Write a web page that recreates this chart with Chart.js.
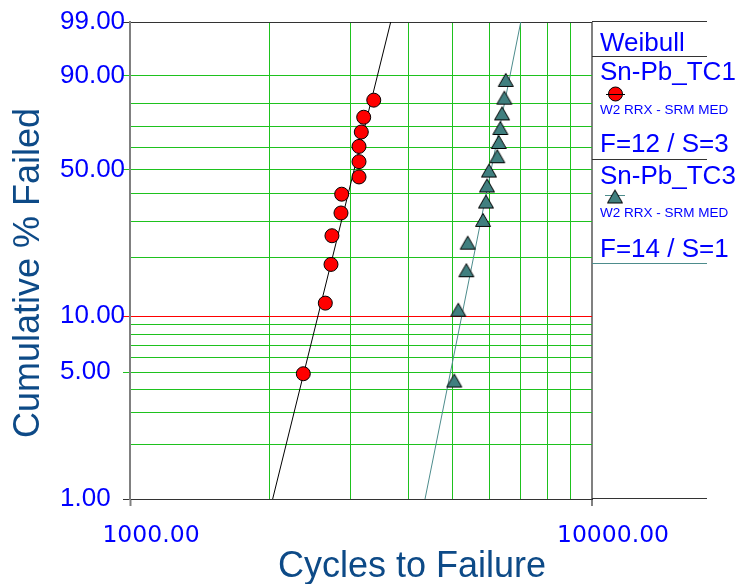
<!DOCTYPE html>
<html>
<head>
<meta charset="utf-8">
<script src="https://cdn.jsdelivr.net/npm/chart.js@4.4.1/dist/chart.umd.min.js"></script>
<style>
  html, body { margin: 0; padding: 0; background: #fff; }
  #wrap { width: 746px; height: 584px; }
</style>
</head>
<body>
<div id="wrap"><canvas id="chart" width="746" height="584"></canvas></div>
<script>
// Данные
const tc1Cycles = [2372, 2647, 2723, 2736, 2862, 2872, 3131, 3131, 3131, 3167, 3205, 3370];
const tc1Pct    = [4.9, 11.7, 18.5, 25.6, 32.7, 39.6, 46.7, 53.5, 60.6, 67.4, 74.2, 81.5];
const tc3Cycles = [5034, 5135, 5346, 5383, 5809, 5896, 5925, 5984, 6238, 6283, 6333, 6387, 6461, 6506];
const tc3Pct    = [4.5, 10.8, 17.3, 23.7, 30.4, 36.8, 43.1, 49.5, 56.0, 62.7, 69.3, 75.9, 82.5, 88.8];

// Линии Weibull (концы на 1% и 99%)
const tc1FitCycles = [2036, 3667];
const tc3FitCycles = [4351, 7012];
const fitPct       = [1, 99];

// Деления осей
const xTickValues = [1000, 2000, 3000, 4000, 5000, 6000, 7000, 8000, 9000, 10000];
const xLabelValues = [1000, 10000];
const yTickPct  = [1, 2, 3, 4, 5, 6, 7, 8, 9, 10, 20, 30, 40, 50, 60, 70, 80, 90, 99];
const yLabelPct = [1, 5, 10, 50, 90, 99];

// Вероятностная шкала Weibull
const W = p => Math.log(-Math.log(1 - p / 100));
const toPoints = (xs, ps) => xs.map((x, i) => ({ x, y: W(ps[i]) }));

const GREEN = '#1ec21e';
const BLUE  = '#0000ff';
const TITLE = '#0d4a87';
const TEAL  = '#407f7f';

// маркер-треугольник (центр по рамке)
const tri = document.createElement('canvas');
tri.width = 18; tri.height = 16;
(function () {
  const c = tri.getContext('2d');
  c.beginPath();
  c.moveTo(9, 1.5); c.lineTo(16.5, 14.5); c.lineTo(1.5, 14.5); c.closePath();
  c.fillStyle = TEAL; c.fill();
  c.strokeStyle = '#000'; c.lineWidth = 1; c.stroke();
})();

const decorPlugin = {
  id: 'decor',
  afterDraw(chart) {
    const ctx = chart.ctx;
    const a = chart.chartArea;
    ctx.save();

    // рамка: верх и продолжение вправо
    ctx.strokeStyle = '#333';
    ctx.lineWidth = 1;
    ctx.beginPath();
    ctx.moveTo(a.right, 21.5); ctx.lineTo(707, 21.5);
    ctx.moveTo(a.right, 498.5); ctx.lineTo(707, 498.5);
    ctx.moveTo(592, 56.5); ctx.lineTo(707, 56.5);
    ctx.moveTo(592, 159.5); ctx.lineTo(707, 159.5);
    ctx.stroke();
    ctx.strokeStyle = '#4d8c8c';
    ctx.beginPath();
    ctx.moveTo(592, 263.5); ctx.lineTo(707, 263.5);
    ctx.stroke();

    // заголовки осей
    ctx.fillStyle = TITLE;
    ctx.font = '36px "Liberation Sans", Arial, sans-serif';
    ctx.textAlign = 'center';
    ctx.textBaseline = 'alphabetic';
    ctx.fillText('Cycles to Failure', 412, 577);
    ctx.save();
    ctx.translate(38.5, 273);
    ctx.rotate(-Math.PI / 2);
    ctx.fillText('Cumulative % Failed', 0, 0);
    ctx.restore();

    // легенда
    ctx.fillStyle = BLUE;
    ctx.textAlign = 'left';
    ctx.font = '26px "Liberation Sans", Arial, sans-serif';
    ctx.fillText('Weibull', 600, 51);
    ctx.fillText('Sn-Pb_TC1', 600, 80);
    ctx.fillText('F=12 / S=3', 600, 152);
    ctx.fillText('Sn-Pb_TC3', 600, 184);
    ctx.fillText('F=14 / S=1', 600, 257);
    ctx.font = '13.5px "Liberation Sans", Arial, sans-serif';
    ctx.fillText('W2 RRX - SRM MED', 600, 114);
    ctx.fillText('W2 RRX - SRM MED', 600, 217);

    // маркеры легенды
    ctx.beginPath();
    ctx.arc(615.5, 94, 7, 0, Math.PI * 2);
    ctx.fillStyle = '#ff0000'; ctx.fill();
    ctx.strokeStyle = '#000'; ctx.lineWidth = 1; ctx.stroke();
    ctx.beginPath();
    ctx.moveTo(606, 94.5); ctx.lineTo(625, 94.5);
    ctx.stroke();

    ctx.strokeStyle = '#4d8c8c';
    ctx.beginPath();
    ctx.moveTo(605, 195.5); ctx.lineTo(625, 195.5);
    ctx.stroke();
    ctx.drawImage(tri, 615 - 9, 196.5 - 8);

    ctx.restore();
  }
};

new Chart(document.getElementById('chart'), {
  type: 'scatter',
  data: {
    datasets: [
      {
        label: 'Sn-Pb_TC1',
        data: toPoints(tc1Cycles, tc1Pct),
        pointStyle: 'circle',
        pointRadius: 7,
        backgroundColor: '#ff0000',
        borderColor: '#000',
        borderWidth: 1
      },
      {
        label: 'Sn-Pb_TC3',
        data: toPoints(tc3Cycles, tc3Pct),
        pointStyle: tri,
        pointRadius: 8
      },
      {
        label: 'fit TC1',
        data: toPoints(tc1FitCycles, fitPct),
        showLine: true,
        pointRadius: 0,
        borderColor: '#000',
        borderWidth: 1
      },
      {
        label: 'fit TC3',
        data: toPoints(tc3FitCycles, fitPct),
        showLine: true,
        pointRadius: 0,
        borderColor: '#4d8c8c',
        borderWidth: 1
      }
    ]
  },
  options: {
    responsive: false,
    animation: false,
    events: [],
    layout: { padding: { left: 60, top: 22, right: 154, bottom: 0 } },
    plugins: { legend: { display: false }, tooltip: { enabled: false } },
    scales: {
      x: {
        type: 'logarithmic',
        min: 1000,
        max: 10000,
        afterBuildTicks: s => { s.ticks = xTickValues.map(v => ({ value: v })); },
        afterFit: s => { s.height = 85; },
        border: { color: '#333', width: 1 },
        grid: {
          tickLength: 7,
          color: c => c.tick.value === 10000 ? '#808080' : (c.tick.value === 1000 ? 'rgba(0,0,0,0)' : GREEN),
          lineWidth: c => c.tick.value === 10000 ? 2 : 1,
          tickColor: c => (c.tick.value === 1000 || c.tick.value === 10000) ? '#808080' : 'rgba(0,0,0,0)',
          tickWidth: 2
        },
        ticks: {
          autoSkip: false,
          maxRotation: 0,
          minRotation: 0,
          labelOffset: 21,
          padding: 16,
          color: BLUE,
          font: { family: '"DejaVu Sans"', size: 23.5 },
          callback: v => xLabelValues.includes(v) ? v.toFixed(2) : ''
        }
      },
      y: {
        type: 'linear',
        min: W(1),
        max: W(99),
        afterBuildTicks: s => { s.ticks = yTickPct.map(p => ({ value: W(p) })); },
        afterFit: s => { s.width = 70; },
        border: { color: '#808080', width: 2 },
        grid: {
          tickLength: 7,
          color: c => {
            const p = yTickPct[c.index];
            if (p === 10) return '#ff0000';
            if (p === 1 || p === 99) return '#333';
            return GREEN;
          },
          tickColor: c => {
            const p = yTickPct[c.index];
            if (!yLabelPct.includes(p)) return 'rgba(0,0,0,0)';
            if (p === 10) return '#ff0000';
            if (p === 1 || p === 99) return '#333';
            return GREEN;
          }
        },
        ticks: {
          autoSkip: false,
          crossAlign: 'far',
          color: BLUE,
          font: { family: '"Liberation Sans", Arial, sans-serif', size: 26 },
          callback: (v, i) => yLabelPct.includes(yTickPct[i]) ? yTickPct[i].toFixed(2) : ''
        }
      }
    }
  },
  plugins: [decorPlugin]
});
</script>
</body>
</html>
